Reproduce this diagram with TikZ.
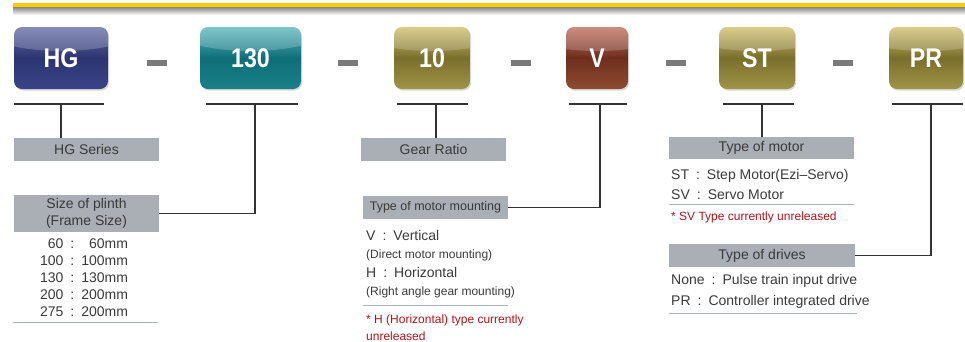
\documentclass[tikz,border=0pt]{standalone}
\usepackage{fontspec}
\setmainfont{Liberation Sans}
\newfontfamily\codefont[FakeStretch=0.86]{Liberation Sans}
\usetikzlibrary{shadows}
\definecolor{sarga}{HTML}{FFCC00}
\definecolor{cimkeszurke}{HTML}{A9AFB5}
\definecolor{szoveg}{HTML}{3A3A3A}
\definecolor{piros}{HTML}{B5121B}
\definecolor{kekesvonal}{HTML}{A8B4C0}
\definecolor{kotojel}{HTML}{7A7A7A}
\definecolor{kek-f}{HTML}{6870A8}\definecolor{kek-k}{HTML}{2C3470}\definecolor{kek-a}{HTML}{3A4488}
\definecolor{turkiz-f}{HTML}{5FB8BE}\definecolor{turkiz-k}{HTML}{0E6E78}\definecolor{turkiz-a}{HTML}{1A8088}
\definecolor{olive-f}{HTML}{D0C070}\definecolor{olive-k}{HTML}{7A6E2C}\definecolor{olive-a}{HTML}{A09448}
\definecolor{barna-f}{HTML}{C07060}\definecolor{barna-k}{HTML}{6E2E1C}\definecolor{barna-a}{HTML}{8E4C34}
\begin{document}
\begin{tikzpicture}[x=1pt,y=1pt,
kod/.style={rectangle,minimum width=#1,minimum height=62pt,inner sep=0pt,rounded corners=8pt,text=white,
  font=\codefont\bfseries\fontsize{27}{27}\selectfont,
  drop shadow={opacity=.3,shadow xshift=1.2pt,shadow yshift=-1.6pt},
  path picture={\fill[white,opacity=.2] (path picture bounding box.north) ellipse [x radius=80pt,y radius=24pt];}},
kek/.style={top color=kek-f,bottom color=kek-a,middle color=kek-k},
turkiz/.style={top color=turkiz-f,bottom color=turkiz-a,middle color=turkiz-k},
olive/.style={top color=olive-f,bottom color=olive-a,middle color=olive-k},
barna/.style={top color=barna-f,bottom color=barna-a,middle color=barna-k},
cimke/.style={rectangle,fill=cimkeszurke,text=szoveg,inner sep=0pt,minimum height=23pt,minimum width=145pt,
  font=\fontsize{14}{17}\selectfont},
lista/.style={inner sep=0pt,text=szoveg,font=\fontsize{14}{#1}\selectfont},
megj/.style={inner sep=0pt,text=piros,font=\fontsize{12}{17}\selectfont},
vonal/.style={kekesvonal,line width=1pt},
]
\useasboundingbox (0,0) rectangle (965,-341);

\fill[sarga] (13,-3) rectangle (965,-7.5);
\shade[top color=black!45,bottom color=white] (13,-7.5) rectangle (965,-15);

\node[kod=94pt,kek](hg) at (61,-58){HG};
\node[kod=101pt,turkiz](size) at (250.5,-58){130};
\node[kod=76pt,olive](ratio) at (432,-58){10};
\node[kod=62pt,barna](mount) at (597,-58){V};
\node[kod=76pt,olive](motor) at (757,-58){ST};
\node[kod=74pt,olive](drive) at (926,-58){PR};

\foreach \x in {157,347.5,521,675.5,843}
  \fill[kotojel] (\x-10,-60) rectangle (\x+10,-65.5);

\coordinate(hg-l) at (14,-104);   \coordinate(hg-r) at (104,-104);  \coordinate(hg-s) at (61,-104);
\coordinate(size-l) at (206,-104); \coordinate(size-r) at (298,-104); \coordinate(size-s) at (255,-104);
\coordinate(ratio-l) at (397,-104); \coordinate(ratio-r) at (468,-104); \coordinate(ratio-s) at (436,-104);
\coordinate(mount-l) at (569,-104); \coordinate(mount-r) at (627,-104); \coordinate(mount-s) at (600,-104);
\coordinate(motor-l) at (723,-104); \coordinate(motor-r) at (794,-104); \coordinate(motor-s) at (762,-104);
\coordinate(drive-l) at (892,-104); \coordinate(drive-r) at (963,-104); \coordinate(drive-s) at (931,-104);

\node[cimke](hg-series) at (86.5,-149.5){HG Series};
\node[cimke,minimum height=37pt,align=center](plinth) at (86.5,-213.5){Size of plinth\\(Frame Size)};
\node[lista=17,anchor=base](plinth-list) at (84,-248){\begin{tabular}[t]{@{}r@{\enspace:\enspace}r@{}}
60&60mm\\100&100mm\\130&130mm\\200&200mm\\275&200mm\end{tabular}};
\draw[vonal] (13,-322)--(158,-322);

\node[cimke](gear-ratio) at (433.5,-149.5){Gear Ratio};
\node[cimke,font=\fontsize{12.5}{15}\selectfont](mounting) at (435.5,-207.5){Type of motor mounting};
\node[lista=18.5,anchor=base west](mounting-list) at (366,-240){\begin{tabular}[t]{@{}l@{}}
V\enspace:\enspace Vertical\\{\fontsize{12}{14}\selectfont (Direct motor mounting)}\\
H\enspace:\enspace Horizontal\\{\fontsize{12}{14}\selectfont (Right angle gear mounting)}\end{tabular}};
\draw[vonal] (363,-305)--(508,-305);
\node[megj,anchor=base west](mounting-note) at (366,-323.3){\begin{tabular}[t]{@{}l@{}}
* H (Horizontal) type currently\\unreleased\end{tabular}};

\node[cimke,minimum width=185pt,minimum height=22pt](motor-type) at (761.5,-148){Type of motor};
\node[lista=20,anchor=base west](motor-list) at (671,-179){\begin{tabular}[t]{@{}l@{}}
ST\enspace:\enspace Step Motor(Ezi--Servo)\\SV\enspace:\enspace Servo Motor\end{tabular}};
\draw[vonal] (669,-204)--(854,-204);
\node[megj,anchor=base west](motor-note) at (671,-220.3){* SV Type currently unreleased};

\node[cimke,minimum width=186pt](drives) at (762,-255.5){Type of drives};
\node[lista=21,anchor=base west](drives-list) at (671,-284){\begin{tabular}[t]{@{}l@{}}
None\enspace:\enspace Pulse train input drive\\PR\enspace:\enspace Controller integrated drive\end{tabular}};
\draw[vonal] (669,-313)--(857,-313);

\begin{scope}[line width=1.1pt,black!80]
\draw (hg-l)--(hg-r);
\draw (size-l)--(size-r);
\draw (ratio-l)--(ratio-r);
\draw (mount-l)--(mount-r);
\draw (motor-l)--(motor-r);
\draw (drive-l)--(drive-r);
\draw (hg-s)--(hg-s|-hg-series.north);
\draw (size-s)|-(plinth.east);
\draw (ratio-s)--(ratio-s|-gear-ratio.north);
\draw (mount-s)|-(mounting.east);
\draw (motor-s)--(motor-s|-motor-type.north);
\draw (drive-s)|-(drives.east);
\end{scope}
\end{tikzpicture}
\end{document}
